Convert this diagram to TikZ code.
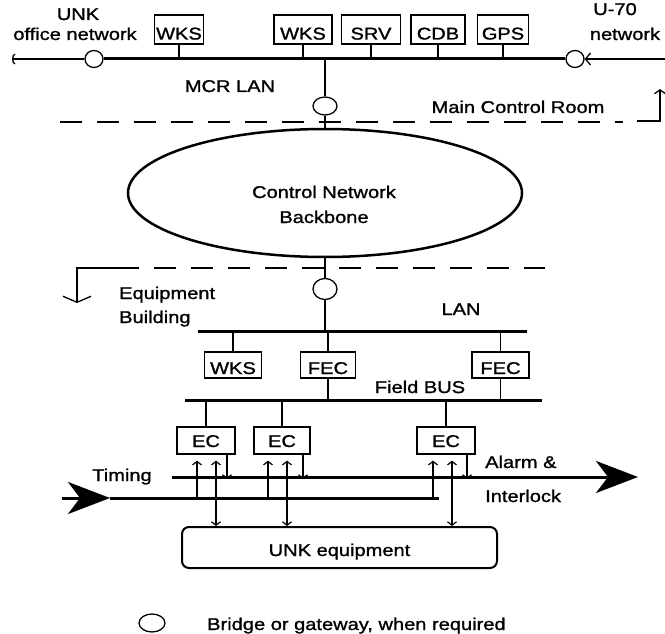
\documentclass[tikz,border=0pt]{standalone}
\usepackage{fontspec}
\setmainfont[FakeStretch=1.18,FakeBold=1.2]{Liberation Sans}
\usetikzlibrary{arrows.meta,shapes.geometric}
\begin{document}
\begin{tikzpicture}[x=1pt,y=-1pt,
  every node/.style={font=\fontsize{17pt}{20pt}\selectfont, inner sep=0pt},
  box/.style={draw, line width=1.3pt},
  topbox/.style={box, minimum height=29pt, text height=20pt, text depth=0pt},
  lowbox/.style={box, minimum height=26pt, text height=18pt, text depth=0pt},
  ecbox/.style={box, minimum height=27pt, text height=13pt, text depth=0pt},
  thinline/.style={line width=1.3pt},
  busline/.style={line width=3pt},
  bridge/.style={draw, ellipse, line width=1.3pt, inner sep=0pt},
  sarr/.style={line width=1.2pt},
  barb/.tip={Straight Barb[length=3.5pt,width=9pt]},
  bigtip/.tip={Stealth[length=42pt,width=32pt,inset=12pt]}
]
\useasboundingbox (0,0) rectangle (665,634);

% ---------- top: MCR LAN ----------
\node[anchor=base] (unk) at (78,20) {UNK};
\node[anchor=base] (office) at (75,40) {office network};
\node[anchor=base] (u70) at (615,15) {U-70};
\node[anchor=base] (u70net) at (625,40) {network};

\node[topbox, minimum width=49pt] (wksA) at (179,29.5) {WKS};
\node[topbox, minimum width=58pt] (wksT) at (303,29.5) {WKS};
\node[topbox, minimum width=59pt] (srv) at (371,29.5) {SRV};
\node[topbox, minimum width=54pt] (cdb) at (438,29.5) {CDB};
\node[topbox, minimum width=51pt] (gps) at (503,29.5) {GPS};

\node[bridge, minimum width=18pt, minimum height=17pt] (brL) at (94,59) {};
\node[bridge, minimum width=18pt, minimum height=17pt] (brR) at (575,59) {};
\coordinate (leftend) at (12,59);
\coordinate (rightend) at (665,59);
\draw[busline] (brL.east) -- (brR.west);
\draw[thinline, -{Arc Barb[length=3pt,width=11pt]}] (brL.west) -- (leftend);
\draw[thinline, -{Straight Barb[length=5pt,width=12pt]}] (rightend) -- (brR.east);

\foreach \b in {wksA,wksT,srv,cdb,gps}
  \draw[thinline] (\b.south) -- (\b.south |- brL);

\node[anchor=base] (mcrlan) at (230,92) {MCR LAN};

\node[bridge, minimum width=24pt, minimum height=18pt] (brM) at (325,106) {};
\draw[thinline] (brM.north |- brL) -- (brM.north);

% dashed boundary 1
\coordinate (d1a) at (60,122);
\coordinate (d1b) at (623,122);
\draw[thinline, dash pattern=on 22pt off 15pt] (d1a) -- (d1b);
\coordinate (k1a) at (637,121);
\coordinate (k1b) at (660,121);
\coordinate (k1c) at (660,89);
\draw[thinline, -{Straight Barb[length=4pt,width=11pt]}] (k1a) -- (k1b) -- (k1c);
\node[anchor=base] (mcr) at (518,113) {Main Control Room};

% ---------- backbone ----------
\node[draw, ellipse, line width=2.5pt, minimum width=394pt, minimum height=128pt] (cnb) at (325,193) {};
\node[anchor=base] (cnbA) at (324,198) {Control Network};
\node[anchor=base] (cnbB) at (324,223) {Backbone};
\draw[thinline] (brM.south) -- (cnb.north);

% dashed boundary 2
\coordinate (d2a) at (117,268);
\coordinate (d2b) at (545,268);
\draw[thinline, dash pattern=on 22pt off 15pt] (d2a) -- (d2b);
\coordinate (k2a) at (77,268);
\coordinate (k2b) at (77,303);
\draw[thinline, -{Straight Barb[length=6pt,width=28pt]}] (d2a) -- (k2a) -- (k2b);

\node[anchor=base west] (equip) at (119,299) {Equipment};
\node[anchor=base west] (bldg) at (119,323) {Building};

% ---------- equipment building ----------
\node[bridge, minimum width=24pt, minimum height=21pt] (brE) at (325,289) {};
\draw[thinline] (cnb.south) -- (brE.north);

\coordinate (lanL) at (198,331);
\coordinate (lanR) at (527,331);
\draw[busline] (lanL) -- (lanR);
\draw[thinline] (brE.south) -- (brE.south |- lanL);
\node[anchor=base] (lan) at (461,315) {LAN};

\node[lowbox, minimum width=57pt] (wksB) at (233,365) {WKS};
\node[lowbox, minimum width=55pt] (fecA) at (328,365) {FEC};
\node[lowbox, minimum width=57pt] (fecB) at (500.5,365) {FEC};
\foreach \b in {wksB,fecA,fecB}
  \draw[thinline] (\b.north) -- (\b.north |- lanL);

\coordinate (fbL) at (185,400);
\coordinate (fbR) at (542,400);
\draw[busline] (fbL) -- (fbR);
\draw[thinline] (fecA.south) -- (fecA.south |- fbL);
\draw[thinline] (fecB.south) -- (fecB.south |- fbL);
\node[anchor=base] (fieldbus) at (420,393) {Field BUS};

\node[ecbox, minimum width=58pt] (ecA) at (206,440.5) {EC};
\node[ecbox, minimum width=56pt] (ecB) at (282,440.5) {EC};
\node[ecbox, minimum width=58pt] (ecC) at (446,440.5) {EC};
\foreach \b in {ecA,ecB,ecC}
  \draw[thinline] (\b.north) -- (\b.north |- fbL);

% timing and alarm lines
\coordinate (tA) at (172,477);
\coordinate (tB) at (638,477);
\draw[busline, -bigtip] (tA) -- (tB);
\coordinate (lA) at (62,498);
\coordinate (lM) at (110,498);
\coordinate (lB) at (439,498);
\draw[busline, -bigtip] (lA) -- (lM);
\draw[busline] (lM) -- (lB);

\node[anchor=base] (timing) at (122,481) {Timing};
\node[anchor=base west] (alarm) at (485,468) {Alarm \&};
\node[anchor=base west] (interlock) at (485,502) {Interlock};

% equipment box
\node[draw, rounded corners=7pt, line width=2pt, minimum width=315pt, minimum height=41pt,
      text height=17pt, text depth=0pt] (eq) at (339.5,547.5) {UNK equipment};

% small arrows at the ECs
\foreach \b/\u/\v in {ecA/-9/10, ecB/-14/5, ecC/-13/6}{
  \draw[sarr, -barb] ([xshift=\u pt]\b.south |- lB) -- ([xshift=\u pt, yshift=-6pt]\b.south);
  \draw[sarr, barb-barb] ([xshift=\v pt, yshift=-6pt]\b.south) -- ([xshift=\v pt]\b.south |- eq.north);
  \draw[sarr, -barb] ([xshift=21pt]\b.south) -- ([xshift=21pt, yshift=-2pt]\b.south |- tA);
}

% legend
\node[bridge, minimum width=26pt, minimum height=18pt] (legC) at (152,623) {};
\node[anchor=base west] (legT) at (207,630) {Bridge or gateway, when required};
\end{tikzpicture}
\end{document}
